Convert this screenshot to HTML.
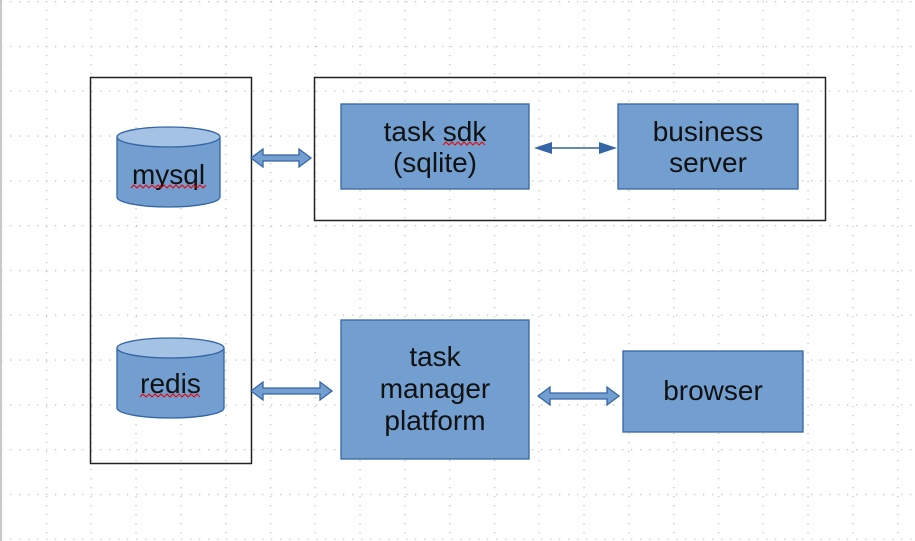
<!DOCTYPE html>
<html><head><meta charset="utf-8"><style>
html,body{margin:0;padding:0;background:#fff;}
svg{display:block;}
text{font-family:"Liberation Sans",sans-serif;font-size:28px;fill:#111;text-anchor:middle;}
</style></head><body>
<svg width="915" height="541" viewBox="0 0 915 541" xmlns="http://www.w3.org/2000/svg">
<defs>
<pattern id="gh" x="1" y="1" width="9" height="44.8" patternUnits="userSpaceOnUse">
<rect x="0" y="0" width="1.3" height="1.3" fill="#c4c4c4"/>
</pattern>
<pattern id="gv" x="1" y="1" width="44.8" height="9" patternUnits="userSpaceOnUse">
<rect x="0" y="0" width="1.3" height="1.3" fill="#c4c4c4"/>
</pattern>
</defs>
<rect width="915" height="541" fill="#fff"/>
<rect x="0" y="0" width="915" height="541" fill="url(#gh)"/>
<rect x="0" y="0" width="915" height="541" fill="url(#gv)"/>
<rect x="0" y="0" width="2" height="541" fill="#c8c8c8"/>

<rect x="90.5" y="77.5" width="161" height="386" fill="none" stroke="#222" stroke-width="1.5"/>
<rect x="314.5" y="77.5" width="511" height="143" fill="none" stroke="#222" stroke-width="1.5"/>

<path d="M117,137 L117,197 A51.5,10 0 0 0 220,197 L220,137" fill="#729fcf" stroke="#3465a4" stroke-width="1.3"/>
<ellipse cx="168.5" cy="137" rx="51.5" ry="10" fill="#a4c2e3" stroke="#3465a4" stroke-width="1.3"/>
<text x="168.5" y="184">mysql</text>
<polyline points="131,188 134,185 137,188 140,185 143,188 146,185 149,188 152,185 155,188 158,185 161,188 164,185 167,188 170,185 173,188 176,185 179,188 182,185 185,188 188,185 191,188 194,185 197,188 200,185 203,188 206,185" fill="none" stroke="#e00" stroke-width="1"/>

<path d="M117,348 L117,408 A53.5,10 0 0 0 224,408 L224,348" fill="#729fcf" stroke="#3465a4" stroke-width="1.3"/>
<ellipse cx="170.5" cy="348" rx="53.5" ry="10" fill="#a4c2e3" stroke="#3465a4" stroke-width="1.3"/>
<text x="170.5" y="393">redis</text>
<polyline points="140,397 143,394 146,397 149,394 152,397 155,394 158,397 161,394 164,397 167,394 170,397 173,394 176,397 179,394 182,397 185,394 188,397 191,394 194,397 197,394 200,397" fill="none" stroke="#e00" stroke-width="1"/>

<rect x="341" y="104" width="188" height="85" fill="#729fcf" stroke="#3465a4" stroke-width="1.3"/>
<text x="435" y="141">task sdk</text>
<text x="435" y="172">(sqlite)</text>
<polyline points="443,145 446,142 449,145 452,142 455,145 458,142 461,145 464,142 467,145 470,142 473,145 476,142 479,145 482,142 485,145" fill="none" stroke="#e00" stroke-width="1"/>

<rect x="618" y="104" width="180" height="85" fill="#729fcf" stroke="#3465a4" stroke-width="1.3"/>
<text x="708" y="141">business</text>
<text x="708" y="172">server</text>

<rect x="341" y="320" width="188" height="139" fill="#729fcf" stroke="#3465a4" stroke-width="1.3"/>
<text x="435" y="366">task</text>
<text x="435" y="398">manager</text>
<text x="435" y="430">platform</text>

<rect x="623" y="351" width="180" height="81" fill="#729fcf" stroke="#3465a4" stroke-width="1.3"/>
<text x="713" y="400">browser</text>

<path d="M251,158 L263,149 L263,155 L299,155 L299,149 L311,158 L299,167 L299,161 L263,161 L263,167 Z" fill="#729fcf" stroke="#3465a4" stroke-width="1.3"/>
<path d="M251,391 L263,382 L263,388 L320,388 L320,382 L332,391 L320,400 L320,394 L263,394 L263,400 Z" fill="#729fcf" stroke="#3465a4" stroke-width="1.3"/>
<path d="M538,396 L550,387 L550,393 L607,393 L607,387 L619,396 L607,405 L607,399 L550,399 L550,405 Z" fill="#729fcf" stroke="#3465a4" stroke-width="1.3"/>

<line x1="548" y1="148" x2="605" y2="148" stroke="#3465a4" stroke-width="1.5"/>
<path d="M534,148 L552,142 L552,154 Z" fill="#3465a4"/>
<path d="M617,148 L599,142 L599,154 Z" fill="#3465a4"/>
</svg>
</body></html>
